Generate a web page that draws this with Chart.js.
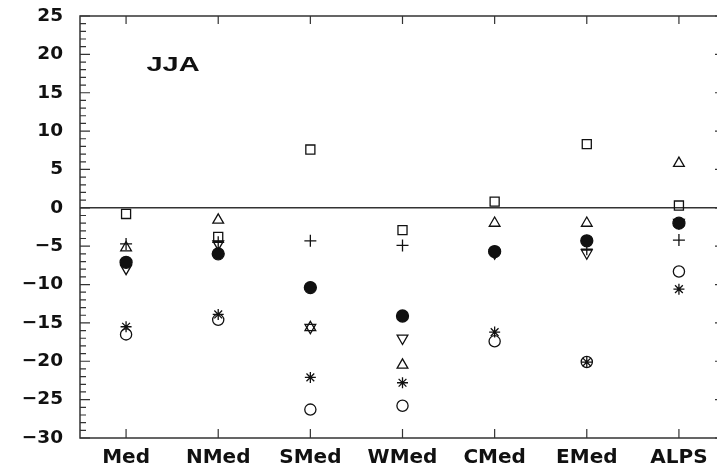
<!DOCTYPE html>
<html lang="en">
<head>
    <meta charset="UTF-8">
    <title>JJA</title>
    <script src="https://cdn.jsdelivr.net/npm/chart.js@4.4.0/dist/chart.umd.min.js"></script>
    <style>
        html, body { margin: 0; padding: 0; background: #fff; overflow: hidden; }
        #myChart { display: block; }
    </style>
</head>
<body>
    <canvas id="myChart" width="735" height="469"></canvas>

    <script>
        // regions along the x axis
        const regions = ['Med', 'NMed', 'SMed', 'WMed', 'CMed', 'EMed', 'ALPS'];

        // one array per marker
        const filledCircle = [-7.1, -6.0, -10.4, -14.1, -5.7, -4.3, -2.0];
        const openSquare   = [-0.8, -3.8, 7.6, -2.9, 0.8, 8.3, 0.3];
        const triangleUp   = [-5.2, -1.6, -15.6, -20.5, -2.0, -2.0, 5.8];
        const triangleDown = [-7.9, -4.7, -15.6, -17.0, -5.9, -5.9, -1.9];
        const plusMark     = [-4.7, -4.5, -4.3, -4.9, -5.9, -5.4, -4.2];
        const asterisk     = [-15.5, -13.9, -22.1, -22.8, -16.2, -20.1, -10.6];
        const openCircle   = [-16.5, -14.6, -26.3, -25.8, -17.4, -20.1, -8.3];

        // labelled y ticks
        const yLabelValues = [-30, -25, -20, -15, -10, -5, 0, 5, 10, 15, 20, 25];

        // season label inside the plot (category index, y value)
        const seasonLabel = { text: 'JJA', x: 0.51, y: 18.6 };

        const ink = '#111';

        // frame with inward ticks + season text
        const framePlugin = {
            id: 'frame',
            afterDraw(chart) {
                const ctx = chart.ctx;
                const area = chart.chartArea;
                const xs = chart.scales.x;
                const ys = chart.scales.y;
                ctx.save();
                ctx.strokeStyle = '#333';
                ctx.lineWidth = 1.5;
                ctx.strokeRect(area.left, area.top, area.right - area.left, area.bottom - area.top);

                ctx.lineWidth = 1.2;
                ctx.beginPath();
                for (let v = -30; v <= 25; v++) {
                    const y = ys.getPixelForValue(v);
                    const len = v % 5 === 0 ? 10 : 6;
                    ctx.moveTo(area.left, y);
                    ctx.lineTo(area.left + len, y);
                    ctx.moveTo(area.right, y);
                    ctx.lineTo(area.right - len, y);
                }
                regions.forEach((r, i) => {
                    const x = xs.getPixelForValue(i);
                    ctx.moveTo(x, area.top);
                    ctx.lineTo(x, area.top + 8);
                    ctx.moveTo(x, area.bottom);
                    ctx.lineTo(x, area.bottom - 9);
                });
                ctx.stroke();

                const lx = xs.getPixelForValue(seasonLabel.x);
                const ly = ys.getPixelForValue(seasonLabel.y);
                ctx.translate(lx, ly);
                ctx.scale(1.45, 1);
                ctx.fillStyle = ink;
                ctx.font = 'bold 20px "Liberation Sans", Arial, sans-serif';
                ctx.textAlign = 'center';
                ctx.textBaseline = 'middle';
                ctx.fillText(seasonLabel.text, 0, 0);
                ctx.restore();
            }
        };

        function markerSet(data, style, radius, filled, rotation) {
            return {
                data: data,
                showLine: false,
                pointStyle: style,
                pointRadius: radius,
                pointRotation: rotation || 0,
                pointBorderWidth: 1.3,
                pointBorderColor: ink,
                pointBackgroundColor: filled ? ink : 'rgba(0,0,0,0)',
                borderColor: ink,
                backgroundColor: filled ? ink : 'rgba(0,0,0,0)'
            };
        }

        const ctx = document.getElementById('myChart').getContext('2d');
        new Chart(ctx, {
            type: 'line',
            data: {
                labels: regions,
                datasets: [
                    markerSet(filledCircle, 'circle', 6, true),
                    markerSet(openSquare, 'rect', 6.4, false),
                    markerSet(triangleUp, 'triangle', 6.2, false),
                    markerSet(triangleDown, 'triangle', 6.2, false, 180),
                    markerSet(plusMark, 'cross', 6, false),
                    markerSet(asterisk, 'star', 5.5, false),
                    markerSet(openCircle, 'circle', 5.6, false)
                ]
            },
            options: {
                responsive: false,
                animation: false,
                events: [],
                layout: { padding: { top: 16, right: 10, left: 0, bottom: 0 } },
                plugins: {
                    legend: { display: false },
                    tooltip: { enabled: false }
                },
                scales: {
                    x: {
                        type: 'category',
                        offset: true,
                        grid: { display: false, drawTicks: false },
                        border: { display: false },
                        ticks: {
                            color: ink,
                            padding: 8,
                            maxRotation: 0,
                            autoSkip: false,
                            font: { family: '"DejaVu Sans", sans-serif', weight: 'bold', size: 20 }
                        },
                        afterFit(scale) { scale.height = 31; }
                    },
                    y: {
                        min: -30,
                        max: 25,
                        grid: {
                            drawTicks: false,
                            lineWidth: 1.5,
                            color: c => (c.tick && c.tick.value === 0) ? '#333' : 'rgba(0,0,0,0)'
                        },
                        border: { display: false },
                        ticks: {
                            stepSize: 1,
                            maxTicksLimit: 100,
                            autoSkip: false,
                            color: ink,
                            padding: 17,
                            font: { family: '"DejaVu Sans", sans-serif', weight: 'bold', size: 18.5 },
                            callback: v => yLabelValues.includes(v) ? String(v).replace('-', '\u2212') : ''
                        },
                        afterFit(scale) {
                            scale.width = 80;
                            scale.paddingTop = 0;
                            scale.paddingBottom = 0;
                        }
                    }
                }
            },
            plugins: [framePlugin]
        });
    </script>
</body>
</html>
